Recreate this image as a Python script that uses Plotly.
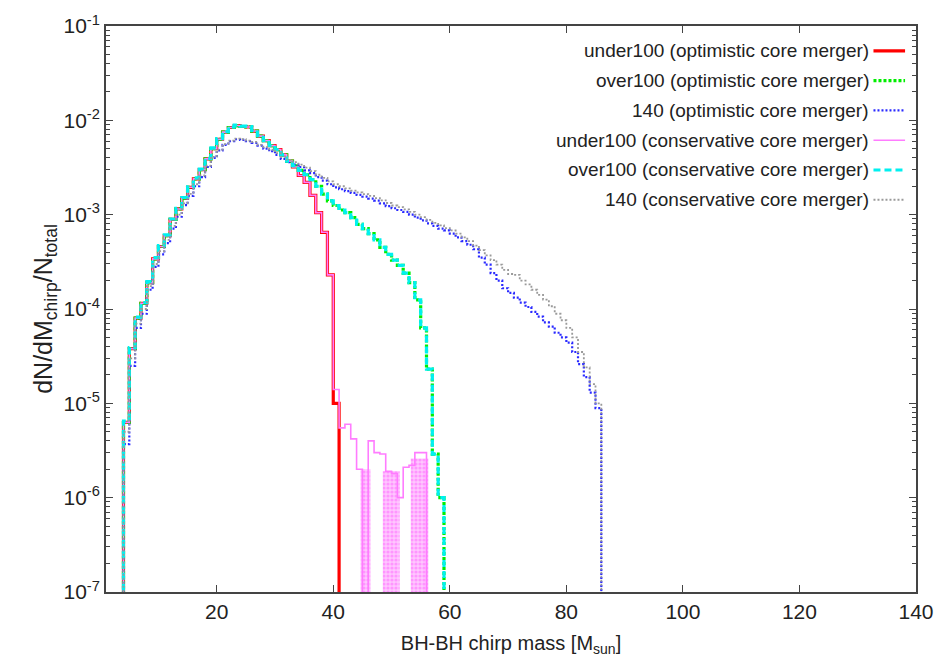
import plotly.graph_objects as go

# ---------------- data (bins of 1 Msun starting at 4 Msun) ----------------
bin_start = 4
bin_width = 1

under100_opt = [6.3e-6, 3.8e-5, 8.0e-5, 1.15e-4, 1.9e-4, 3.4e-4, 4.6e-4, 6.0e-4, 8.9e-4, 1.15e-3,
                1.5e-3, 1.95e-3, 2.4e-3, 3.0e-3, 3.9e-3, 5.0e-3, 6.3e-3, 7.5e-3, 8.4e-3, 8.8e-3,
                8.6e-3, 8.5e-3, 7.7e-3, 6.8e-3, 6.1e-3, 5.4e-3, 4.9e-3, 4.3e-3, 3.7e-3, 3.2e-3,
                2.6e-3, 2.2e-3, 1.6e-3, 1.05e-3, 6.5e-4, 2.3e-4, 1.0e-5, 0]

over100_opt = [6.3e-6, 3.8e-5, 8.0e-5, 1.15e-4, 1.9e-4, 3.4e-4, 4.6e-4, 6.0e-4, 8.9e-4, 1.15e-3,
               1.5e-3, 1.95e-3, 2.4e-3, 3.0e-3, 3.9e-3, 5.0e-3, 6.3e-3, 7.5e-3, 8.4e-3, 8.8e-3,
               8.6e-3, 8.5e-3, 7.7e-3, 6.8e-3, 6.1e-3, 5.4e-3, 4.9e-3, 4.3e-3, 3.7e-3, 3.3e-3,
               2.95e-3, 2.65e-3, 2.35e-3, 2.0e-3, 1.65e-3, 1.4e-3, 1.25e-3, 1.12e-3, 1.05e-3, 9.3e-4,
               7.9e-4, 7.1e-4, 6.3e-4, 5.4e-4, 4.5e-4, 3.8e-4, 3.3e-4, 2.9e-4, 2.4e-4, 1.9e-4,
               1.25e-4, 6.3e-5, 2.3e-5, 2.9e-6, 1.0e-6, 0]

m140_opt = [3.7e-6, 2.5e-5, 6.3e-5, 8.9e-5, 1.6e-4, 2.8e-4, 3.8e-4, 5.0e-4, 7.1e-4, 9.5e-4,
            1.26e-3, 1.58e-3, 2.0e-3, 2.5e-3, 3.2e-3, 4.0e-3, 4.8e-3, 5.5e-3, 6.0e-3, 6.3e-3,
            6.2e-3, 6.0e-3, 5.75e-3, 5.4e-3, 5.0e-3, 4.7e-3, 4.3e-3, 3.9e-3, 3.6e-3, 3.4e-3,
            3.2e-3, 2.95e-3, 2.75e-3, 2.5e-3, 2.3e-3, 2.1e-3, 1.95e-3, 1.86e-3, 1.78e-3, 1.7e-3,
            1.62e-3, 1.55e-3, 1.48e-3, 1.41e-3, 1.32e-3, 1.23e-3, 1.17e-3, 1.12e-3, 1.07e-3, 1.0e-3,
            9.3e-4, 8.7e-4, 8.1e-4, 7.6e-4, 7.1e-4, 6.8e-4, 6.3e-4, 5.75e-4, 5.25e-4, 4.8e-4,
            4.3e-4, 3.5e-4, 2.95e-4, 2.4e-4, 2.0e-4, 1.66e-4, 1.48e-4, 1.32e-4, 1.17e-4, 1.05e-4,
            9.3e-5, 8.3e-5, 7.2e-5, 6.5e-5, 5.6e-5, 5.0e-5, 4.4e-5, 3.5e-5, 2.6e-5, 1.9e-5,
            1.3e-5, 8.9e-6, 0]

under100_con = [6.3e-6, 3.8e-5, 8.0e-5, 1.15e-4, 1.9e-4, 3.4e-4, 4.6e-4, 6.0e-4, 8.9e-4, 1.15e-3,
                1.5e-3, 1.95e-3, 2.4e-3, 3.0e-3, 3.9e-3, 5.0e-3, 6.3e-3, 7.5e-3, 8.4e-3, 8.8e-3,
                8.6e-3, 8.5e-3, 7.7e-3, 6.8e-3, 6.1e-3, 5.4e-3, 4.9e-3, 4.3e-3, 3.7e-3, 3.2e-3,
                2.6e-3, 2.2e-3, 1.6e-3, 1.05e-3, 6.5e-4, 2.3e-4, 1.4e-5, 5.5e-6, 6.0e-6, 4.2e-6,
                2.0e-6, 0, 4.0e-6, 3.0e-6, 2.9e-6, 1.9e-6, 1.8e-6, 1.0e-6, 2.1e-6, 2.2e-6,
                3.0e-6, 3.0e-6, 0]

over100_con = [6.5e-6, 3.9e-5, 8.2e-5, 1.17e-4, 1.95e-4, 3.5e-4, 4.7e-4, 6.1e-4, 9.0e-4, 1.17e-3,
               1.52e-3, 1.97e-3, 2.45e-3, 3.05e-3, 3.95e-3, 5.1e-3, 6.4e-3, 7.6e-3, 8.5e-3, 8.9e-3,
               8.7e-3, 8.6e-3, 7.8e-3, 6.9e-3, 6.1e-3, 5.4e-3, 4.9e-3, 4.3e-3, 3.7e-3, 3.3e-3,
               2.95e-3, 2.65e-3, 2.35e-3, 2.0e-3, 1.65e-3, 1.4e-3, 1.25e-3, 1.12e-3, 1.05e-3, 9.3e-4,
               7.9e-4, 7.1e-4, 6.3e-4, 5.4e-4, 4.5e-4, 3.8e-4, 3.3e-4, 2.9e-4, 2.4e-4, 1.9e-4,
               1.25e-4, 6.3e-5, 2.3e-5, 2.9e-6, 1.0e-6, 0]

m140_con = [5.0e-6, 3.0e-5, 7.0e-5, 1.0e-4, 1.75e-4, 3.0e-4, 4.1e-4, 5.4e-4, 7.6e-4, 1.0e-3,
            1.32e-3, 1.66e-3, 2.1e-3, 2.6e-3, 3.3e-3, 4.1e-3, 4.9e-3, 5.6e-3, 6.1e-3, 6.4e-3,
            6.3e-3, 6.1e-3, 5.9e-3, 5.5e-3, 5.2e-3, 4.9e-3, 4.5e-3, 4.1e-3, 3.8e-3, 3.6e-3,
            3.4e-3, 3.15e-3, 2.9e-3, 2.65e-3, 2.45e-3, 2.25e-3, 2.1e-3, 2.0e-3, 1.9e-3, 1.8e-3,
            1.72e-3, 1.65e-3, 1.58e-3, 1.5e-3, 1.42e-3, 1.33e-3, 1.25e-3, 1.2e-3, 1.14e-3, 1.07e-3,
            1.0e-3, 9.4e-4, 8.8e-4, 8.2e-4, 7.7e-4, 7.2e-4, 6.8e-4, 6.3e-4, 5.75e-4, 5.25e-4,
            4.7e-4, 4.2e-4, 3.7e-4, 3.3e-4, 2.95e-4, 2.6e-4, 2.35e-4, 2.3e-4, 2.0e-4, 1.82e-4,
            1.6e-4, 1.41e-4, 1.26e-4, 1.07e-4, 8.9e-5, 7.6e-5, 6.3e-5, 5.0e-5, 3.5e-5, 2.4e-5,
            1.6e-5, 1.0e-5, 0]

# sparse-count region of the conservative under100 run (dense spikes)
pink_fill_lo = [44.7, 48.5, 53.3]
pink_fill_hi = [46.4, 51.4, 56.3]
pink_fill_top = [2.0e-6, 1.9e-6, 2.6e-6]

legend_labels = ["under100 (optimistic core merger)",
                 "over100 (optimistic core merger)",
                 "140 (optimistic core merger)",
                 "under100 (conservative core merger)",
                 "over100 (conservative core merger)",
                 "140 (conservative core merger)"]

x_ticks = [20, 40, 60, 80, 100, 120, 140]
y_exps = [-7, -6, -5, -4, -3, -2, -1]

# ---------------- styling ----------------
FLOOR = 1e-12
Y_MIN, Y_MAX = 1e-7, 1e-1
FONT = "Liberation Sans, Arial, Helvetica, sans-serif"

styles = [
    dict(color="#ff0000", width=3.2, dash="solid"),
    dict(color="#00ee00", width=3.2, dash="3px,2px"),
    dict(color="#2a2aff", width=2.2, dash="2px,2px"),
    dict(color="#ff7cff", width=1.6, dash="solid"),
    dict(color="#00f0f0", width=3.2, dash="7px,4px"),
    dict(color="#9a9a9a", width=1.8, dash="2px,2px"),
]
series = [under100_opt, over100_opt, m140_opt, under100_con, over100_con, m140_con]


def step_xy(vals):
    xs = [bin_start]
    ys = [FLOOR]
    for i, v in enumerate(vals):
        xs.append(bin_start + i * bin_width)
        ys.append(v if v > 0 else FLOOR)
    xs.append(bin_start + len(vals) * bin_width)
    ys.append(ys[-1])
    return xs, ys


fig = go.Figure()

# pink filled spikes (drawn first, under the lines)
for lo, hi, top in zip(pink_fill_lo, pink_fill_hi, pink_fill_top):
    fig.add_trace(go.Scatter(
        x=[lo, lo, hi, hi, lo], y=[Y_MIN, top, top, Y_MIN, Y_MIN],
        mode="lines", fill="toself", line=dict(width=0, color="#ff7cff"),
        fillcolor="rgba(255,150,255,0.55)",
        fillpattern=dict(shape=".", fgcolor="#ff66ff", size=4, solidity=0.5, fillmode="overlay"),
        hoverinfo="skip", showlegend=False))

for vals, st, name in zip(series, styles, legend_labels):
    xs, ys = step_xy(vals)
    fig.add_trace(go.Scatter(x=xs, y=ys, mode="lines", name=name, line_shape="hv",
                             line=dict(color=st["color"], width=st["width"], dash=st["dash"]),
                             showlegend=False))

# gnuplot-style key: right-aligned text, sample line to the right
row_y0 = 0.956
row_dy = 0.0526
for i, (name, st) in enumerate(zip(legend_labels, styles)):
    yy = row_y0 - i * row_dy
    fig.add_annotation(x=0.9445, y=yy, xref="paper", yref="paper", text=name, showarrow=False,
                       xanchor="right", yanchor="middle",
                       font=dict(family=FONT, size=19, color="#222"))
    fig.add_shape(type="line", xref="paper", yref="paper", x0=0.9475, x1=0.9865, y0=yy, y1=yy,
                  line=dict(color=st["color"], width=st["width"], dash=st["dash"]))

minor_vals = [k * 10.0 ** e for e in range(-7, -1) for k in range(2, 10)]

fig.update_layout(
    width=946, height=671,
    margin=dict(l=106, r=23, t=22, b=79),
    paper_bgcolor="white", plot_bgcolor="white",
    font=dict(family=FONT, size=20, color="#222"),
    showlegend=False,
)
fig.update_xaxes(
    range=[1, 140], tickmode="array", tickvals=x_ticks,
    ticks="inside", ticklen=7, tickwidth=1.2, tickcolor="#444",
    showline=True, linecolor="#444", linewidth=1.8, mirror="ticks",
    showgrid=False, zeroline=False,
    tickfont=dict(family=FONT, size=21, color="#222"),
    title=dict(text="BH-BH chirp mass [M<sub>sun</sub>]", standoff=14,
               font=dict(family=FONT, size=20, color="#222")),
)
fig.update_yaxes(
    type="log", range=[-7, -1], tickmode="array",
    tickvals=[10.0 ** e for e in y_exps],
    ticktext=["10<sup>%d</sup>" % e for e in y_exps],
    ticks="inside", ticklen=7, tickwidth=1.2, tickcolor="#444",
    minor=dict(tickmode="array", tickvals=minor_vals, ticks="inside", ticklen=4,
               tickcolor="#444", showgrid=False),
    showline=True, linecolor="#444", linewidth=1.8, mirror="ticks",
    showgrid=False, zeroline=False,
    tickfont=dict(family=FONT, size=21, color="#222"),
    title=dict(text="dN/dM<sub>chirp</sub>/N<sub>total</sub>", standoff=4,
               font=dict(family=FONT, size=25, color="#222")),
)

fig.write_html("out.html")
